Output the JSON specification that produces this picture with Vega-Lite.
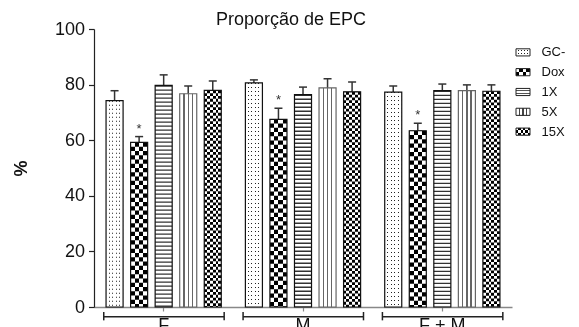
{
  "$schema": "https://vega.github.io/schema/vega-lite/v6.json",
  "background": "white",
  "padding": {"left": 12, "top": 11, "right": 0, "bottom": 0},
  "autosize": {"type": "pad"},
  "config": {
    "font": "Liberation Sans",
    "view": {"stroke": null}
  },
  "datasets": {
    "medias": [
      {"grupo": "F", "trat": "GC-", "media": 74.2, "sup": 77.8, "sig": ""},
      {"grupo": "F", "trat": "Dox", "media": 59.2, "sup": 61.3, "sig": "*"},
      {"grupo": "F", "trat": "1X", "media": 79.7, "sup": 83.5, "sig": ""},
      {"grupo": "F", "trat": "5X", "media": 76.7, "sup": 79.5, "sig": ""},
      {"grupo": "F", "trat": "15X", "media": 77.9, "sup": 81.3, "sig": ""},
      {"grupo": "M", "trat": "GC-", "media": 80.6, "sup": 81.7, "sig": ""},
      {"grupo": "M", "trat": "Dox", "media": 67.5, "sup": 71.5, "sig": "*"},
      {"grupo": "M", "trat": "1X", "media": 76.4, "sup": 79.1, "sig": ""},
      {"grupo": "M", "trat": "5X", "media": 78.8, "sup": 82.1, "sig": ""},
      {"grupo": "M", "trat": "15X", "media": 77.4, "sup": 80.9, "sig": ""},
      {"grupo": "F + M", "trat": "GC-", "media": 77.3, "sup": 79.5, "sig": ""},
      {"grupo": "F + M", "trat": "Dox", "media": 63.4, "sup": 66.1, "sig": "*"},
      {"grupo": "F + M", "trat": "1X", "media": 77.8, "sup": 80.2, "sig": ""},
      {"grupo": "F + M", "trat": "5X", "media": 77.8, "sup": 79.9, "sig": ""},
      {"grupo": "F + M", "trat": "15X", "media": 77.6, "sup": 79.9, "sig": ""}
    ],
    "grupos": [{"grupo": "F"}, {"grupo": "M"}, {"grupo": "F + M"}],
    "tratamentos": [{"trat": "GC-"}, {"trat": "Dox"}, {"trat": "1X"}, {"trat": "5X"}, {"trat": "15X"}]
  },
  "bounds": "flush",
  "spacing": 4,
  "hconcat": [
    {
      "width": 418,
      "height": 278,
      "title": {
        "text": "Proporção de EPC",
        "fontSize": 18,
        "fontWeight": "normal",
        "color": "#111",
        "anchor": "middle",
        "frame": "group",
        "dx": -12,
        "dy": 12,
        "offset": 3
      },
      "layer": [
        {
          "data": {"name": "medias"},
          "encoding": {
            "x": {
              "field": "grupo", "type": "nominal", "sort": ["F", "M", "F + M"], "title": null,
              "scale": {"paddingInner": 0.173, "paddingOuter": 0.0865},
              "axis": {
                "labelAngle": 0, "labelFontSize": 18, "labelColor": "#111", "labelPadding": 5,
                "domainColor": "#888", "domainWidth": 1.5, "tickColor": "#888", "tickSize": 4, "tickWidth": 1.2
              }
            },
            "xOffset": {
              "field": "trat", "type": "nominal", "sort": ["GC-", "Dox", "1X", "5X", "15X"],
              "scale": {"paddingInner": 0.306, "paddingOuter": 0}
            }
          },
          "layer": [
            {
              "mark": {"type": "bar"},
              "encoding": {
                "y": {
                  "field": "media", "type": "quantitative", "title": "%",
                  "scale": {"domain": [0, 100], "nice": false},
                  "axis": {
                    "title": "%", "titleFontSize": 18, "titleFontWeight": "bold", "titleColor": "#111", "titlePadding": 24,
                    "values": [0, 20, 40, 60, 80, 100], "grid": false,
                    "labelFontSize": 18, "labelColor": "#111", "labelPadding": 4,
                    "tickSize": 5.5, "tickColor": "#222", "tickWidth": 1.2,
                    "domainColor": "#222", "domainWidth": 1.2
                  }
                },
                "fill": {
                  "condition": [
                    {"test": "datum.trat === 'Dox'", "value": {"gradient": "linear", "x1": 0, "y1": 0, "x2": 1, "y2": 0, "stops": [
                      {"offset": 0, "color": "#000"}, {"offset": 0.25, "color": "#000"}, {"offset": 0.25, "color": "#fff"}, {"offset": 0.5, "color": "#fff"},
                      {"offset": 0.5, "color": "#000"}, {"offset": 0.75, "color": "#000"}, {"offset": 0.75, "color": "#fff"}, {"offset": 1, "color": "#fff"}]}},
                    {"test": "datum.trat === '5X'", "value": {"gradient": "linear", "x1": 0, "y1": 0, "x2": 1, "y2": 0, "stops": [
                      {"offset": 0, "color": "#fff"}, {"offset": 0.21, "color": "#fff"}, {"offset": 0.21, "color": "#666"}, {"offset": 0.29, "color": "#666"},
                      {"offset": 0.29, "color": "#fff"}, {"offset": 0.46, "color": "#fff"}, {"offset": 0.46, "color": "#666"}, {"offset": 0.54, "color": "#666"},
                      {"offset": 0.54, "color": "#fff"}, {"offset": 0.71, "color": "#fff"}, {"offset": 0.71, "color": "#666"}, {"offset": 0.79, "color": "#666"},
                      {"offset": 0.79, "color": "#fff"}, {"offset": 1, "color": "#fff"}]}},
                    {"test": "datum.trat === '15X'", "value": {"gradient": "linear", "x1": 0, "y1": 0, "x2": 1, "y2": 0, "stops": [
                      {"offset": 0, "color": "#000"}, {"offset": 0.1667, "color": "#000"}, {"offset": 0.1667, "color": "#fff"}, {"offset": 0.3333, "color": "#fff"},
                      {"offset": 0.3333, "color": "#000"}, {"offset": 0.5, "color": "#000"}, {"offset": 0.5, "color": "#fff"}, {"offset": 0.6667, "color": "#fff"},
                      {"offset": 0.6667, "color": "#000"}, {"offset": 0.8333, "color": "#000"}, {"offset": 0.8333, "color": "#fff"}, {"offset": 1, "color": "#fff"}]}}
                  ],
                  "value": "#fff"
                }
              }
            },
            {
              "transform": [{"filter": "datum.trat === 'GC-'"}],
              "mark": {"type": "rule", "strokeWidth": 17, "stroke": "#222", "strokeDash": [1, 3], "strokeCap": "butt"},
              "encoding": {"y": {"field": "media", "type": "quantitative"}, "y2": {"datum": 0}}
            },
            {
              "transform": [{"filter": "datum.trat === 'Dox'"}],
              "mark": {"type": "rule", "strokeWidth": 17, "stroke": "#fff", "blend": "difference", "strokeDash": [4.25, 4.25], "strokeCap": "butt"},
              "encoding": {"y": {"field": "media", "type": "quantitative"}, "y2": {"datum": 0}}
            },
            {
              "transform": [{"filter": "datum.trat === '1X'"}],
              "mark": {"type": "rule", "strokeWidth": 17, "stroke": "#333", "strokeDash": [1.3, 2.7], "strokeCap": "butt"},
              "encoding": {"y": {"field": "media", "type": "quantitative"}, "y2": {"datum": 0}}
            },
            {
              "transform": [{"filter": "datum.trat === '15X'"}],
              "mark": {"type": "rule", "strokeWidth": 17, "stroke": "#fff", "blend": "difference", "strokeDash": [2.8, 2.8], "strokeCap": "butt"},
              "encoding": {"y": {"field": "media", "type": "quantitative"}, "y2": {"datum": 0}}
            },
            {
              "transform": [{"filter": "datum.trat === 'GC-'"}],
              "mark": {"type": "bar", "fill": {"gradient": "linear", "x1": 0, "y1": 0, "x2": 1, "y2": 0, "stops": [
                {"offset": 0, "color": "#fff"}, {"offset": 0.147, "color": "#fff"}, {"offset": 0.147, "color": "rgba(255,255,255,0)"}, {"offset": 0.206, "color": "rgba(255,255,255,0)"},
                {"offset": 0.206, "color": "#fff"}, {"offset": 0.353, "color": "#fff"}, {"offset": 0.353, "color": "rgba(255,255,255,0)"}, {"offset": 0.412, "color": "rgba(255,255,255,0)"},
                {"offset": 0.412, "color": "#fff"}, {"offset": 0.559, "color": "#fff"}, {"offset": 0.559, "color": "rgba(255,255,255,0)"}, {"offset": 0.618, "color": "rgba(255,255,255,0)"},
                {"offset": 0.618, "color": "#fff"}, {"offset": 0.765, "color": "#fff"}, {"offset": 0.765, "color": "rgba(255,255,255,0)"}, {"offset": 0.824, "color": "rgba(255,255,255,0)"},
                {"offset": 0.824, "color": "#fff"}, {"offset": 1, "color": "#fff"}]}},
              "encoding": {"y": {"field": "media", "type": "quantitative"}}
            },
            {
              "mark": {"type": "rule", "stroke": "#333", "strokeWidth": 1.5},
              "encoding": {"y": {"field": "media", "type": "quantitative"}, "y2": {"field": "sup"}}
            },
            {
              "mark": {"type": "tick", "color": "#333", "size": 8, "thickness": 1.5, "opacity": 1},
              "encoding": {"y": {"field": "sup", "type": "quantitative"}}
            },
            {
              "mark": {"type": "bar", "fill": "transparent", "strokeWidth": 1.2},
              "encoding": {
                "y": {"field": "media", "type": "quantitative"},
                "stroke": {"condition": {"test": "datum.trat === '5X'", "value": "#666"}, "value": "#111"}
              }
            },
            {
              "mark": {"type": "text", "fontSize": 13, "color": "#333", "baseline": "bottom", "dy": -1},
              "encoding": {
                "y": {"field": "sup", "type": "quantitative"},
                "text": {"field": "sig"}
              }
            }
          ]
        },
        {
          "data": {"name": "grupos"},
          "encoding": {
            "x": {"field": "grupo", "type": "nominal", "sort": ["F", "M", "F + M"], "title": null, "bandPosition": -0.02}
          },
          "layer": [
            {
              "mark": {"type": "rule", "stroke": "#222", "strokeWidth": 1.5},
              "encoding": {
                "x2": {"field": "grupo", "bandPosition": 1.025},
                "y": {"datum": -3.5, "type": "quantitative"}
              }
            },
            {
              "mark": {"type": "rule", "stroke": "#222", "strokeWidth": 1.5},
              "encoding": {
                "y": {"datum": -1.8, "type": "quantitative"},
                "y2": {"datum": -4.8}
              }
            },
            {
              "mark": {"type": "rule", "stroke": "#222", "strokeWidth": 1.5},
              "encoding": {
                "x": {"field": "grupo", "type": "nominal", "sort": ["F", "M", "F + M"], "title": null, "bandPosition": 1.025},
                "y": {"datum": -1.8, "type": "quantitative"},
                "y2": {"datum": -4.8}
              }
            }
          ]
        }
      ]
    },
    {
      "width": 14,
      "height": 126,
      "data": {"name": "tratamentos"},
      "encoding": {
        "y": {
          "field": "trat", "type": "nominal", "sort": ["GC-", "Dox", "1X", "5X", "15X"], "title": null,
          "scale": {"paddingInner": 0.64, "paddingOuter": 1.1},
          "axis": {"orient": "right", "domain": false, "ticks": false, "labelPadding": 11, "labelFontSize": 13, "labelColor": "#111"}
        },
        "x": {"datum": 0, "type": "quantitative", "scale": {"domain": [0, 1]}, "axis": null},
        "x2": {"datum": 1}
      },
      "layer": [
        {
          "mark": {"type": "bar"},
          "encoding": {
            "fill": {
              "condition": [
                {"test": "datum.trat === 'GC-'", "value": {"gradient": "linear", "x1": 0, "y1": 0, "x2": 0, "y2": 1, "stops": [
                  {"offset": 0, "color": "#fff"}, {"offset": 0.214, "color": "#fff"}, {"offset": 0.214, "color": "#222"}, {"offset": 0.357, "color": "#222"},
                  {"offset": 0.357, "color": "#fff"}, {"offset": 0.643, "color": "#fff"}, {"offset": 0.643, "color": "#222"}, {"offset": 0.786, "color": "#222"},
                  {"offset": 0.786, "color": "#fff"}, {"offset": 1, "color": "#fff"}]}},
                {"test": "datum.trat === 'Dox'", "value": {"gradient": "linear", "x1": 0, "y1": 0, "x2": 1, "y2": 0, "stops": [
                  {"offset": 0, "color": "#000"}, {"offset": 0.25, "color": "#000"}, {"offset": 0.25, "color": "#fff"}, {"offset": 0.5, "color": "#fff"},
                  {"offset": 0.5, "color": "#000"}, {"offset": 0.75, "color": "#000"}, {"offset": 0.75, "color": "#fff"}, {"offset": 1, "color": "#fff"}]}},
                {"test": "datum.trat === '1X'", "value": {"gradient": "linear", "x1": 0, "y1": 0, "x2": 0, "y2": 1, "stops": [
                  {"offset": 0, "color": "#fff"}, {"offset": 0.28, "color": "#fff"}, {"offset": 0.28, "color": "#555"}, {"offset": 0.42, "color": "#555"},
                  {"offset": 0.42, "color": "#fff"}, {"offset": 0.6, "color": "#fff"}, {"offset": 0.6, "color": "#555"}, {"offset": 0.74, "color": "#555"},
                  {"offset": 0.74, "color": "#fff"}, {"offset": 1, "color": "#fff"}]}},
                {"test": "datum.trat === '5X'", "value": {"gradient": "linear", "x1": 0, "y1": 0, "x2": 1, "y2": 0, "stops": [
                  {"offset": 0, "color": "#fff"}, {"offset": 0.21, "color": "#fff"}, {"offset": 0.21, "color": "#444"}, {"offset": 0.29, "color": "#444"},
                  {"offset": 0.29, "color": "#fff"}, {"offset": 0.46, "color": "#fff"}, {"offset": 0.46, "color": "#444"}, {"offset": 0.54, "color": "#444"},
                  {"offset": 0.54, "color": "#fff"}, {"offset": 0.71, "color": "#fff"}, {"offset": 0.71, "color": "#444"}, {"offset": 0.79, "color": "#444"},
                  {"offset": 0.79, "color": "#fff"}, {"offset": 1, "color": "#fff"}]}}
              ],
              "value": {"gradient": "linear", "x1": 0, "y1": 0, "x2": 1, "y2": 0, "stops": [
                {"offset": 0, "color": "#000"}, {"offset": 0.1667, "color": "#000"}, {"offset": 0.1667, "color": "#fff"}, {"offset": 0.3333, "color": "#fff"},
                {"offset": 0.3333, "color": "#000"}, {"offset": 0.5, "color": "#000"}, {"offset": 0.5, "color": "#fff"}, {"offset": 0.6667, "color": "#fff"},
                {"offset": 0.6667, "color": "#000"}, {"offset": 0.8333, "color": "#000"}, {"offset": 0.8333, "color": "#fff"}, {"offset": 1, "color": "#fff"}]}
            }
          }
        },
        {
          "transform": [{"filter": "datum.trat === 'GC-'"}],
          "mark": {"type": "bar", "fill": {"gradient": "linear", "x1": 0, "y1": 0, "x2": 1, "y2": 0, "stops": [
            {"offset": 0, "color": "#fff"}, {"offset": 0.143, "color": "#fff"}, {"offset": 0.143, "color": "rgba(255,255,255,0)"}, {"offset": 0.214, "color": "rgba(255,255,255,0)"},
            {"offset": 0.214, "color": "#fff"}, {"offset": 0.357, "color": "#fff"}, {"offset": 0.357, "color": "rgba(255,255,255,0)"}, {"offset": 0.429, "color": "rgba(255,255,255,0)"},
            {"offset": 0.429, "color": "#fff"}, {"offset": 0.571, "color": "#fff"}, {"offset": 0.571, "color": "rgba(255,255,255,0)"}, {"offset": 0.643, "color": "rgba(255,255,255,0)"},
            {"offset": 0.643, "color": "#fff"}, {"offset": 0.786, "color": "#fff"}, {"offset": 0.786, "color": "rgba(255,255,255,0)"}, {"offset": 0.857, "color": "rgba(255,255,255,0)"},
            {"offset": 0.857, "color": "#fff"}, {"offset": 1, "color": "#fff"}]}}
        },
        {
          "transform": [{"filter": "datum.trat === 'Dox'"}],
          "mark": {"type": "bar", "blend": "difference", "fill": {"gradient": "linear", "x1": 0, "y1": 0, "x2": 0, "y2": 1, "stops": [
            {"offset": 0, "color": "#fff"}, {"offset": 0.5, "color": "#fff"}, {"offset": 0.5, "color": "rgba(0,0,0,0)"}, {"offset": 1, "color": "rgba(0,0,0,0)"}]}}
        },
        {
          "transform": [{"filter": "datum.trat === '15X'"}],
          "mark": {"type": "bar", "blend": "difference", "fill": {"gradient": "linear", "x1": 0, "y1": 0, "x2": 0, "y2": 1, "stops": [
            {"offset": 0, "color": "#fff"}, {"offset": 0.333, "color": "#fff"}, {"offset": 0.333, "color": "rgba(0,0,0,0)"}, {"offset": 0.667, "color": "rgba(0,0,0,0)"},
            {"offset": 0.667, "color": "#fff"}, {"offset": 1, "color": "#fff"}]}}
        },
        {
          "mark": {"type": "bar", "fill": "transparent", "stroke": "#222", "strokeWidth": 1}
        }
      ]
    }
  ]
}
